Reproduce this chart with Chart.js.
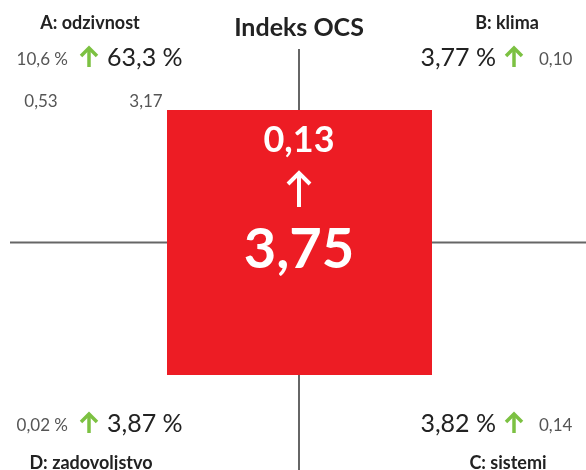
<!DOCTYPE html>
<html>
<head>
<meta charset="utf-8">
<script src="https://cdn.jsdelivr.net/npm/chart.js@4"></script>
<style>
  html, body { margin: 0; padding: 0; background: #fff; }
  #wrap { width: 586px; height: 470px; }
</style>
</head>
<body>
<div id="wrap"><canvas id="c" width="586" height="470"></canvas></div>
<script>
const TITLE = 'Indeks OCS';
const INDEX_VALUE = 3.75;
const INDEX_CHANGE = 0.13;

const QUADRANTS = ['A: odzivnost', 'B: klima', 'C: sistemi', 'D: zadovoljstvo'];
const VALUES = [63.3, 3.77, 3.82, 3.87];
const VALUE_DIGITS = [1, 2, 2, 2];
const CHANGES = [10.6, 0.10, 0.14, 0.02];
const CHANGE_DIGITS = [1, 2, 2, 2];
const CHANGE_UNITS = [' %', '', '', ' %'];
const VALUE_UNIT = ' %';
const RANGE_A = [0.53, 3.17];

const fmt = (v, d) => v.toFixed(d).replace('.', ',');

const FONT = 'Lato, "Open Sans", sans-serif';
const RED = '#ed1c24';
const GREEN = '#7cc142';
const GREY = '#555';

// frame in a pixel-like coordinate system
const W = 586, H = 470;
const CX = 299, CY = 242.5;
const SQ = { x0: 167, x1: 432, y0: 110, y1: 375 };

function upArrow(ctx, x, yTop, yBot, half, color, lw) {
  ctx.save();
  ctx.strokeStyle = color;
  ctx.lineWidth = lw;
  ctx.lineCap = 'butt';
  ctx.lineJoin = 'miter';
  ctx.beginPath();
  ctx.moveTo(x, yBot);
  ctx.lineTo(x, yTop + lw * 0.5);
  ctx.stroke();
  ctx.beginPath();
  ctx.moveTo(x - half, yTop + half);
  ctx.lineTo(x, yTop);
  ctx.lineTo(x + half, yTop + half);
  ctx.stroke();
  ctx.restore();
}

const labelsPlugin = {
  id: 'labels',
  afterDatasetsDraw(chart) {
    const ctx = chart.ctx;
    const sx = chart.scales.x, sy = chart.scales.y;
    const X = v => sx.getPixelForValue(v);
    const Y = v => sy.getPixelForValue(v);
    ctx.save();
    ctx.textBaseline = 'alphabetic';

    // title
    ctx.fillStyle = '#222';
    ctx.font = 'bold 25px ' + FONT;
    ctx.textAlign = 'center';
    ctx.fillText(TITLE, X(CX), Y(36));

    // centre numbers
    ctx.fillStyle = '#fff';
    ctx.font = 'bold 36px ' + FONT;
    ctx.fillText(fmt(INDEX_CHANGE, 2), X(CX), Y(152));
    upArrow(ctx, X(CX), Y(173), Y(207), 11, '#fff', 4);
    ctx.font = 'bold 56px ' + FONT;
    ctx.fillText(fmt(INDEX_VALUE, 2), X(CX), Y(268));

    // quadrant headers
    ctx.fillStyle = '#222';
    ctx.font = 'bold 18px ' + FONT;
    ctx.fillText(QUADRANTS[0], X(90), Y(29));
    ctx.fillText(QUADRANTS[1], X(507), Y(29));
    ctx.fillText(QUADRANTS[2], X(508), Y(469));
    ctx.fillText(QUADRANTS[3], X(91), Y(469));

    // left side rows (A top, D bottom)
    const leftRows = [[0, 66], [3, 432]];
    leftRows.forEach(([i, base]) => {
      ctx.textAlign = 'right';
      ctx.fillStyle = GREY;
      ctx.font = '17px ' + FONT;
      ctx.fillText(fmt(CHANGES[i], CHANGE_DIGITS[i]) + CHANGE_UNITS[i], X(68), Y(base - 1));
      upArrow(ctx, X(89), Y(base - 18), Y(base + 1), 8, GREEN, 3.5);
      ctx.textAlign = 'left';
      ctx.fillStyle = '#222';
      ctx.font = '25px ' + FONT;
      ctx.fillText(fmt(VALUES[i], VALUE_DIGITS[i]) + VALUE_UNIT, X(107), Y(base));
    });

    // right side rows (B top, C bottom)
    const rightRows = [[1, 66], [2, 432]];
    rightRows.forEach(([i, base]) => {
      ctx.textAlign = 'right';
      ctx.fillStyle = '#222';
      ctx.font = '25px ' + FONT;
      ctx.fillText(fmt(VALUES[i], VALUE_DIGITS[i]) + VALUE_UNIT, X(496), Y(base));
      upArrow(ctx, X(514), Y(base - 18), Y(base + 1), 8, GREEN, 3.5);
      ctx.textAlign = 'left';
      ctx.fillStyle = GREY;
      ctx.font = '17px ' + FONT;
      ctx.fillText(fmt(CHANGES[i], CHANGE_DIGITS[i]) + CHANGE_UNITS[i], X(539), Y(base - 1));
    });

    // range under A
    ctx.fillStyle = GREY;
    ctx.font = '17px ' + FONT;
    ctx.textAlign = 'center';
    ctx.fillText(fmt(RANGE_A[0], 2), X(41), Y(107));
    ctx.fillText(fmt(RANGE_A[1], 2), X(146), Y(107));

    ctx.restore();
  }
};

new Chart(document.getElementById('c'), {
  type: 'scatter',
  data: {
    datasets: [
      {
        // index box
        data: [
          { x: SQ.x0, y: SQ.y0 }, { x: SQ.x1, y: SQ.y0 },
          { x: SQ.x1, y: SQ.y1 }, { x: SQ.x0, y: SQ.y1 }, { x: SQ.x0, y: SQ.y0 }
        ],
        showLine: true,
        fill: 'shape',
        backgroundColor: RED,
        borderColor: RED,
        borderWidth: 0,
        pointRadius: 0,
        order: 1
      },
      {
        // horizontal axis
        data: [{ x: 10, y: CY }, { x: W, y: CY }],
        showLine: true,
        borderColor: '#666',
        borderWidth: 2,
        pointRadius: 0,
        order: 2
      },
      {
        // vertical axis
        data: [{ x: CX, y: 49 }, { x: CX, y: H }],
        showLine: true,
        borderColor: '#666',
        borderWidth: 2,
        pointRadius: 0,
        order: 2
      }
    ]
  },
  options: {
    responsive: false,
    animation: false,
    layout: { padding: 0 },
    scales: {
      x: { type: 'linear', min: 0, max: W, display: false },
      y: { type: 'linear', min: 0, max: H, reverse: true, display: false }
    },
    plugins: {
      legend: { display: false },
      tooltip: { enabled: false }
    }
  },
  plugins: [labelsPlugin]
});
</script>
</body>
</html>
